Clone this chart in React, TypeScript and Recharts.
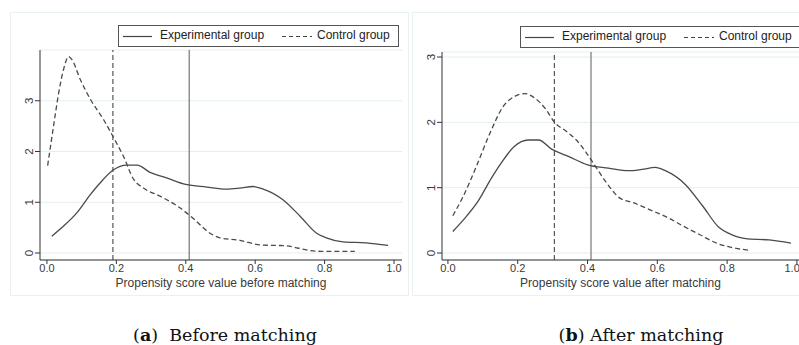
import React from "react";
import { LineChart, Line, XAxis, YAxis, CartesianGrid, ReferenceLine } from "recharts";

// kernel density estimates as [score, density]
const experimental: [number, number][] = [
  [0.014, 0.33], [0.048, 0.53], [0.086, 0.79], [0.125, 1.15], [0.153, 1.38],
  [0.19, 1.63], [0.23, 1.73], [0.26, 1.73], [0.297, 1.59], [0.345, 1.48],
  [0.4, 1.35], [0.46, 1.3], [0.518, 1.26], [0.556, 1.28], [0.594, 1.31],
  [0.623, 1.26], [0.68, 1.05], [0.73, 0.72], [0.777, 0.39], [0.805, 0.3],
  [0.853, 0.22], [0.92, 0.2], [0.983, 0.15],
];

const controlBefore: [number, number][] = [
  [0.002, 1.72], [0.019, 2.5], [0.034, 3.16], [0.048, 3.62], [0.062, 3.87],
  [0.072, 3.81], [0.096, 3.42], [0.125, 3.03], [0.163, 2.63], [0.19, 2.3],
  [0.22, 1.91], [0.25, 1.45], [0.278, 1.28], [0.326, 1.12], [0.383, 0.89],
  [0.42, 0.69], [0.47, 0.39], [0.498, 0.3], [0.556, 0.25], [0.614, 0.16],
  [0.69, 0.14], [0.757, 0.05], [0.805, 0.03], [0.887, 0.03],
];

const controlAfter: [number, number][] = [
  [0.014, 0.57], [0.043, 0.86], [0.081, 1.32], [0.12, 1.83], [0.158, 2.24],
  [0.196, 2.41], [0.22, 2.44], [0.244, 2.39], [0.282, 2.19], [0.304, 2.01],
  [0.34, 1.86], [0.368, 1.73], [0.397, 1.53], [0.426, 1.3], [0.455, 1.07],
  [0.493, 0.84], [0.531, 0.77], [0.579, 0.66], [0.627, 0.55], [0.675, 0.41],
  [0.722, 0.28], [0.77, 0.15], [0.818, 0.08], [0.866, 0.04],
];

const xTicks = [0, 0.2, 0.4, 0.6, 0.8, 1.0];
const yTicks = [0, 1, 2, 3];
const meanExperimental = 0.41;
const meanControlBefore = 0.19;
const meanControlAfter = 0.305;

const toRows = (pts: [number, number][]) => pts.map(([x, y]) => ({ x, y }));

const FONT = '"Liberation Sans", Arial, sans-serif';
const INK = "#3a3a3a";

const RotatedTick = (props: any) => {
  const { x, y, payload } = props;
  return (
    <text
      x={x}
      y={y}
      transform={`rotate(-90 ${x} ${y})`}
      textAnchor="middle"
      fontSize={11.5}
      fontFamily={FONT}
      fill={INK}
    >
      {payload.value}
    </text>
  );
};

function LegendBox({ left, top, width }: { left: number; top: number; width: number }) {
  return (
    <div
      style={{
        position: "absolute",
        left,
        top,
        width,
        height: 22,
        border: "1px solid #555",
        background: "#fff",
        boxSizing: "border-box",
        fontFamily: FONT,
        fontSize: 12,
        color: "#222",
      }}
    >
      <svg width={width} height={22} style={{ position: "absolute", left: 0, top: 0 }}>
        <line x1={4} x2={33} y1={10.5} y2={10.5} stroke="#444" strokeWidth={1.2} />
        <line x1={163} x2={193} y1={10.5} y2={10.5} stroke="#444" strokeWidth={1.2} strokeDasharray="4 3" />
      </svg>
      <span style={{ position: "absolute", left: 41, top: 2 }}>Experimental group</span>
      <span style={{ position: "absolute", left: 198, top: 2 }}>Control group</span>
    </div>
  );
}

interface PanelProps {
  left: number;
  width: number;
  yDomain: [number, number];
  xDomain: [number, number];
  control: [number, number][];
  controlMean: number;
  title: string;
  topMargin: number;
  rightMargin: number;
}

function Panel({ left, width, yDomain, xDomain, control, controlMean, title, topMargin, rightMargin }: PanelProps) {
  return (
    <div style={{ position: "absolute", left, top: 12, width, height: 284 }}>
      <LineChart
        width={width}
        height={284}
        margin={{ top: topMargin, right: rightMargin, bottom: 0, left: 0 }}
      >
        <CartesianGrid vertical={false} stroke="#e3eef1" strokeWidth={1} />
        <XAxis
          type="number"
          dataKey="x"
          domain={xDomain}
          ticks={xTicks}
          allowDataOverflow
          tickFormatter={(v: number) => v.toFixed(1)}
          height={36}
          tickSize={4}
          tickMargin={0}
          tick={{ fontSize: 11, fontFamily: FONT, fill: INK }}
          axisLine={{ stroke: "#333" }}
          tickLine={{ stroke: "#333" }}
          label={{ value: title, position: "insideBottom", offset: 9, fontSize: 12, fontFamily: FONT, fill: INK }}
        />
        <YAxis
          type="number"
          dataKey="y"
          domain={yDomain}
          ticks={yTicks}
          allowDataOverflow
          width={30}
          tickSize={5}
          tickMargin={2}
          tick={<RotatedTick />}
          axisLine={{ stroke: "#333" }}
          tickLine={{ stroke: "#333" }}
        />
        <ReferenceLine x={controlMean} stroke="#555" strokeWidth={1.2} strokeDasharray="5 3" />
        <ReferenceLine x={meanExperimental} stroke="#8a8a8a" strokeWidth={1.4} />
        <Line
          data={toRows(experimental)}
          dataKey="y"
          type="monotone"
          stroke="#4a4a4a"
          strokeWidth={1.3}
          dot={false}
          isAnimationActive={false}
        />
        <Line
          data={toRows(control)}
          dataKey="y"
          type="monotone"
          stroke="#4a4a4a"
          strokeWidth={1.3}
          strokeDasharray="5 3"
          dot={false}
          isAnimationActive={false}
        />
      </LineChart>
    </div>
  );
}

const captionStyle: React.CSSProperties = {
  position: "absolute",
  top: 325,
  width: 240,
  textAlign: "center",
  fontFamily: '"DejaVu Serif", serif',
  fontSize: 17.5,
  color: "#111",
};

export default function App() {
  return (
    <div style={{ position: "absolute", left: 0, top: 0, width: 799, height: 345, background: "#fff", overflow: "hidden" }}>
      <div style={{ position: "absolute", left: 10, top: 12, width: 399, height: 284, border: "1px solid #e9f1f3", boxSizing: "border-box" }} />
      <div style={{ position: "absolute", left: 412, top: 12, width: 390, height: 284, border: "1px solid #e9f1f3", boxSizing: "border-box" }} />
      <Panel
        left={10}
        width={400}
        xDomain={[-0.02, 1.023]}
        yDomain={[-0.138, 4.0]}
        control={controlBefore}
        controlMean={meanControlBefore}
        title="Propensity score value before matching"
        topMargin={38}
        rightMargin={8}
      />
      <Panel
        left={412}
        width={387}
        xDomain={[-0.017, 1.006]}
        yDomain={[-0.107, 3.077]}
        control={controlAfter}
        controlMean={meanControlAfter}
        title="Propensity score value after matching"
        topMargin={40}
        rightMargin={0}
      />
      <LegendBox left={118} top={25} width={281} />
      <LegendBox left={520} top={26} width={281} />
      <div style={{ ...captionStyle, left: 105 }}>
        (<b>a</b>)&nbsp; Before matching
      </div>
      <div style={{ ...captionStyle, left: 521 }}>
        (<b>b</b>) After matching
      </div>
    </div>
  );
}
